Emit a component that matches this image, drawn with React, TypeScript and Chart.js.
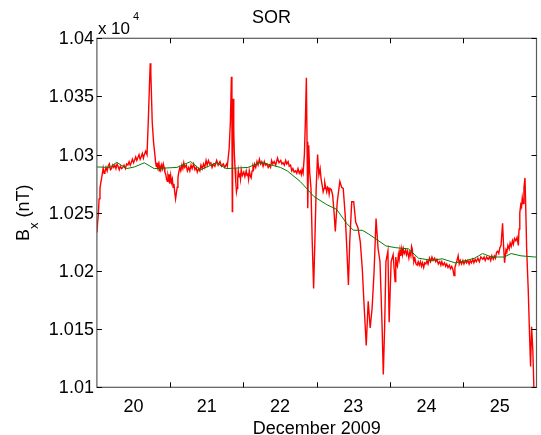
import React, { useEffect, useRef } from 'react';
import { Chart, registerables } from 'chart.js';

Chart.register(...registerables);

// Measured Bx trace: [day of December 2009 (fractional), Bx in nT]
const redSeries: [number, number][] = [
  [19.501, 10233], [19.510, 10242], [19.519, 10248], [19.530, 10262], [19.542, 10271],
  [19.553, 10276], [19.565, 10280], [19.586, 10288.5], [19.598, 10284], [19.609, 10285],
  [19.625, 10289], [19.640, 10286], [19.653, 10290], [19.670, 10292], [19.685, 10287],
  [19.699, 10288], [19.715, 10291], [19.730, 10289], [19.744, 10291], [19.760, 10288],
  [19.775, 10292], [19.788, 10290], [19.805, 10287], [19.820, 10290], [19.838, 10288],
  [19.855, 10289], [19.870, 10291], [19.890, 10288], [19.905, 10292], [19.923, 10291],
  [19.940, 10294], [19.955, 10291], [19.968, 10293], [19.985, 10296], [20.000, 10293],
  [20.013, 10295], [20.030, 10298], [20.045, 10295], [20.057, 10297], [20.075, 10300],
  [20.090, 10296], [20.103, 10298], [20.120, 10301], [20.135, 10297], [20.147, 10300],
  [20.165, 10303], [20.184, 10300], [20.201, 10328], [20.219, 10363], [20.228, 10378.5],
  [20.236, 10370], [20.242, 10357], [20.255, 10328], [20.273, 10311], [20.291, 10300],
  [20.300, 10294], [20.310, 10290], [20.318, 10293], [20.326, 10289], [20.338, 10292],
  [20.350, 10286], [20.361, 10290], [20.372, 10287], [20.384, 10291], [20.395, 10288],
  [20.406, 10292], [20.417, 10289], [20.428, 10285], [20.440, 10283], [20.450, 10279],
  [20.461, 10277], [20.470, 10282], [20.480, 10279], [20.488, 10283], [20.495, 10275],
  [20.507, 10282], [20.518, 10276], [20.530, 10279], [20.540, 10272], [20.551, 10275],
  [20.562, 10268], [20.574, 10262], [20.585, 10267], [20.596, 10272], [20.606, 10280],
  [20.615, 10284], [20.632, 10289], [20.645, 10286], [20.660, 10291], [20.673, 10288],
  [20.686, 10293], [20.700, 10289], [20.720, 10291], [20.735, 10286], [20.753, 10289],
  [20.768, 10286], [20.785, 10291], [20.800, 10288], [20.820, 10292], [20.838, 10287],
  [20.855, 10289], [20.870, 10285], [20.888, 10288], [20.905, 10286], [20.920, 10291],
  [20.938, 10288], [20.955, 10292], [20.972, 10289], [20.990, 10295], [21.005, 10291],
  [21.022, 10295], [21.040, 10292], [21.055, 10293], [21.072, 10289], [21.090, 10292],
  [21.110, 10290], [21.135, 10295], [21.155, 10291], [21.180, 10294], [21.200, 10290],
  [21.225, 10292], [21.245, 10289], [21.269, 10292], [21.280, 10290], [21.290, 10296],
  [21.305, 10305], [21.322, 10328], [21.336, 10367], [21.343, 10328], [21.348, 10251],
  [21.352, 10300], [21.359, 10348], [21.368, 10320], [21.376, 10300], [21.386, 10288],
  [21.395, 10277], [21.405, 10268], [21.413, 10271], [21.422, 10280], [21.430, 10286],
  [21.440, 10281], [21.450, 10284], [21.460, 10279], [21.470, 10287], [21.485, 10282],
  [21.505, 10285], [21.520, 10281], [21.538, 10286], [21.550, 10282], [21.560, 10284],
  [21.570, 10279], [21.580, 10286], [21.592, 10282], [21.605, 10280], [21.618, 10286],
  [21.630, 10290], [21.640, 10288], [21.651, 10292], [21.668, 10289], [21.685, 10294],
  [21.700, 10291], [21.718, 10296], [21.735, 10292], [21.750, 10294], [21.768, 10290],
  [21.785, 10294], [21.800, 10291], [21.820, 10292], [21.838, 10289], [21.853, 10291],
  [21.870, 10289], [21.885, 10295], [21.900, 10292], [21.920, 10294], [21.940, 10291],
  [21.965, 10297], [21.985, 10293], [22.009, 10295], [22.025, 10292], [22.040, 10293],
  [22.058, 10291], [22.076, 10295], [22.092, 10292], [22.110, 10294], [22.125, 10290],
  [22.143, 10291], [22.160, 10286], [22.175, 10288], [22.192, 10285], [22.211, 10286],
  [22.228, 10284], [22.245, 10288], [22.262, 10284], [22.278, 10286], [22.290, 10283],
  [22.300, 10287], [22.314, 10284], [22.332, 10300], [22.345, 10328], [22.359, 10366],
  [22.368, 10311], [22.378, 10254], [22.391, 10308], [22.404, 10285], [22.422, 10271],
  [22.439, 10225], [22.458, 10185], [22.476, 10228], [22.493, 10271], [22.512, 10300],
  [22.530, 10282.5], [22.547, 10288], [22.560, 10279], [22.574, 10274], [22.588, 10268],
  [22.601, 10271], [22.610, 10276], [22.620, 10273], [22.637, 10268], [22.648, 10272],
  [22.660, 10271], [22.670, 10266], [22.682, 10271], [22.700, 10270], [22.718, 10265],
  [22.736, 10251], [22.754, 10234], [22.768, 10248], [22.781, 10259.5], [22.816, 10277],
  [22.840, 10272], [22.862, 10271], [22.889, 10248], [22.907, 10225], [22.933, 10188],
  [22.951, 10225], [22.978, 10259.5], [23.005, 10259.5], [23.032, 10242], [23.064, 10237],
  [23.095, 10225], [23.122, 10202], [23.149, 10168], [23.176, 10136], [23.203, 10174],
  [23.230, 10151], [23.256, 10168], [23.283, 10199], [23.310, 10245], [23.337, 10219.5],
  [23.364, 10208], [23.391, 10156], [23.409, 10111], [23.427, 10151], [23.445, 10208],
  [23.472, 10217], [23.489, 10156], [23.516, 10208], [23.543, 10214], [23.570, 10191],
  [23.579, 10212], [23.590, 10206], [23.602, 10204], [23.615, 10214], [23.625, 10210],
  [23.637, 10218], [23.648, 10213], [23.660, 10219], [23.670, 10214], [23.682, 10219],
  [23.695, 10215], [23.714, 10218], [23.725, 10214], [23.740, 10217], [23.758, 10211],
  [23.770, 10216], [23.785, 10213], [23.795, 10221], [23.804, 10219], [23.815, 10212],
  [23.826, 10208], [23.840, 10211], [23.855, 10206], [23.872, 10205], [23.885, 10208],
  [23.900, 10205], [23.916, 10208], [23.930, 10204], [23.945, 10207], [23.960, 10203],
  [23.975, 10207], [23.990, 10206], [24.006, 10209], [24.020, 10206], [24.040, 10211],
  [24.055, 10208], [24.073, 10212], [24.090, 10209], [24.110, 10211], [24.125, 10208],
  [24.141, 10210], [24.160, 10206], [24.180, 10208], [24.195, 10205], [24.208, 10208],
  [24.225, 10205], [24.245, 10207], [24.260, 10204], [24.275, 10206], [24.292, 10203],
  [24.310, 10205], [24.325, 10202], [24.343, 10204], [24.360, 10201], [24.374, 10196],
  [24.386, 10203], [24.400, 10206], [24.415, 10209], [24.431, 10213], [24.445, 10206],
  [24.460, 10209], [24.477, 10206], [24.495, 10209], [24.510, 10206], [24.530, 10209],
  [24.545, 10207], [24.562, 10209], [24.580, 10206], [24.595, 10209], [24.612, 10207],
  [24.630, 10210], [24.645, 10207], [24.662, 10210], [24.679, 10208], [24.700, 10211],
  [24.720, 10208], [24.740, 10212], [24.768, 10210], [24.785, 10212], [24.800, 10209],
  [24.820, 10212], [24.840, 10210], [24.858, 10212], [24.875, 10209], [24.890, 10213],
  [24.910, 10210], [24.925, 10213], [24.940, 10211], [24.955, 10216], [24.970, 10217],
  [24.985, 10215], [25.000, 10220], [25.016, 10222], [25.037, 10241], [25.051, 10221],
  [25.064, 10207], [25.083, 10218], [25.095, 10216], [25.110, 10222], [25.127, 10219],
  [25.140, 10224], [25.155, 10221], [25.172, 10226], [25.185, 10223], [25.200, 10228],
  [25.218, 10226], [25.235, 10229], [25.252, 10222], [25.262, 10236], [25.272, 10250],
  [25.285, 10257], [25.296, 10255], [25.306, 10263], [25.318, 10258], [25.329, 10272],
  [25.343, 10280], [25.356, 10247], [25.366, 10218], [25.387, 10184], [25.406, 10143.5],
  [25.419, 10118], [25.433, 10152], [25.450, 10132], [25.464, 10100.5], [25.480, 10072],
];

// Smooth quiet-day baseline: [day, nT]
const greenSeries: [number, number][] = [
  [19.501, 10289.4], [19.676, 10289], [19.771, 10293.4], [19.905, 10288], [20.013, 10289.4],
  [20.147, 10293], [20.282, 10288], [20.592, 10289], [20.780, 10294], [20.915, 10287],
  [21.130, 10293], [21.264, 10288], [21.561, 10289], [21.736, 10293.4], [22.005, 10289],
  [22.099, 10286], [22.274, 10277], [22.462, 10264], [22.637, 10257], [22.772, 10253],
  [22.907, 10241], [23.001, 10235], [23.122, 10235], [23.203, 10232], [23.310, 10227.5],
  [23.445, 10221.5], [23.579, 10220], [23.754, 10219], [23.889, 10211], [24.077, 10209],
  [24.212, 10210.5], [24.387, 10207], [24.481, 10208], [24.656, 10211], [24.764, 10215],
  [24.885, 10212], [25.060, 10212], [25.154, 10215], [25.289, 10213], [25.477, 10212],
  [25.500, 10212],
];

const dayLabels = [20, 21, 22, 23, 24, 25];
const xMin = 19.5;
const xMax = 25.5;
const yMin = 10100;
const yMax = 10400;
const yStep = 50;

const FONT = "'Liberation Sans', Arial, Helvetica, sans-serif";

const matlabFrame = {
  id: 'matlabFrame',
  afterDraw(chart: any) {
    const { ctx, chartArea: a, scales } = chart;
    const xs = scales.x;
    const ys = scales.y;
    ctx.save();
    ctx.strokeStyle = '#5a5a5a';
    ctx.lineWidth = 1.2;
    ctx.strokeRect(a.left, a.top, a.right - a.left, a.bottom - a.top);
    ctx.strokeStyle = '#000';
    ctx.lineWidth = 1;
    const L = 5;
    ctx.beginPath();
    for (const t of xs.ticks) {
      if (Number.isInteger(t.value)) continue;
      const p = Math.round(xs.getPixelForValue(t.value)) + 0.5;
      if (p <= a.left + 1 || p >= a.right - 1) continue;
      ctx.moveTo(p, a.bottom);
      ctx.lineTo(p, a.bottom - L);
      ctx.moveTo(p, a.top);
      ctx.lineTo(p, a.top + L);
    }
    for (const t of ys.ticks) {
      const p = Math.round(ys.getPixelForValue(t.value)) + 0.5;
      ctx.moveTo(a.left, p);
      ctx.lineTo(a.left + L, p);
      ctx.moveTo(a.right, p);
      ctx.lineTo(a.right - L, p);
    }
    ctx.stroke();

    ctx.fillStyle = '#000';
    ctx.textBaseline = 'alphabetic';
    ctx.textAlign = 'left';
    ctx.font = `17px ${FONT}`;
    const base = 'x 10';
    ctx.fillText(base, a.left + 1, a.top - 4);
    const w = ctx.measureText(base).width;
    ctx.font = `11px ${FONT}`;
    ctx.fillText('4', a.left + 1 + w + 3, a.top - 18.5);

    const cy = (a.top + a.bottom) / 2;
    ctx.translate(28.5, cy);
    ctx.rotate(-Math.PI / 2);
    ctx.font = `18px ${FONT}`;
    const wB = ctx.measureText('B').width;
    const rest = ' (nT)';
    const wR = ctx.measureText(rest).width;
    ctx.font = `13px ${FONT}`;
    const wx = ctx.measureText('x').width;
    const total = wB + wx + wR;
    let sx = -total / 2;
    ctx.font = `18px ${FONT}`;
    ctx.fillText('B', sx, 0);
    sx += wB;
    ctx.font = `13px ${FONT}`;
    ctx.fillText('x', sx, 9);
    sx += wx;
    ctx.font = `18px ${FONT}`;
    ctx.fillText(rest, sx, 0);
    ctx.restore();
  },
};

export default function App() {
  const ref = useRef<HTMLCanvasElement | null>(null);

  useEffect(() => {
    const canvas = ref.current;
    if (!canvas) return;
    const red = redSeries.map(([t, v]) => ({ x: t, y: v }));
    const green = greenSeries.map(([t, v]) => ({ x: t, y: v }));
    const chart = new Chart(canvas, {
      type: 'line',
      data: {
        datasets: [
          {
            label: 'Quiet-day curve',
            data: green,
            borderColor: 'rgb(0,128,0)',
            borderWidth: 1,
            pointRadius: 0,
            tension: 0,
            fill: false,
          },
          {
            label: 'Bx',
            data: red,
            borderColor: 'rgb(255,0,0)',
            borderWidth: 1.4,
            pointRadius: 0,
            tension: 0,
            fill: false,
          },
        ],
      },
      options: {
        responsive: false,
        animation: false,
        devicePixelRatio: 1,
        layout: { padding: { top: 0, left: 0, right: 2, bottom: 0 }, autoPadding: false },
        plugins: {
          legend: { display: false },
          tooltip: { enabled: false },
          title: {
            display: true,
            text: 'SOR',
            color: '#000',
            font: { family: FONT, size: 18, weight: 'normal', lineHeight: 1.2 },
            padding: { top: 7, bottom: 9.7 },
          },
        },
        scales: {
          x: {
            type: 'linear',
            min: xMin,
            max: xMax,
            grid: { display: false, drawTicks: false },
            border: { display: false },
            ticks: {
              stepSize: 0.5,
              autoSkip: false,
              maxRotation: 0,
              padding: 8.5,
              color: '#000',
              font: { family: FONT, size: 18 },
              callback: (v: any) => (Number.isInteger(v) && dayLabels.includes(v) ? String(v) : ''),
            },
            title: {
              display: true,
              text: 'December 2009',
              color: '#000',
              font: { family: FONT, size: 18, lineHeight: '12px' },
              padding: { top: 0, bottom: 0 },
            },
            afterFit: (s: any) => {
              s.height = 47.7;
            },
          },
          y: {
            type: 'linear',
            min: yMin,
            max: yMax,
            grid: { display: false, drawTicks: false },
            border: { display: false },
            ticks: {
              stepSize: yStep,
              padding: 3,
              color: '#000',
              labelOffset: 1,
              font: { family: FONT, size: 18 },
              callback: (v: any) => String(parseFloat((v / 10000).toFixed(4))),
            },
            afterFit: (s: any) => {
              s.width = 96.9;
            },
          },
        },
      },
      plugins: [matlabFrame],
    });
    return () => chart.destroy();
  }, []);

  return (
    <div
      style={{
        position: 'fixed',
        left: 0,
        top: 0,
        width: 541,
        height: 435,
        overflow: 'hidden',
        background: '#fff',
      }}
    >
      <canvas ref={ref} width={545} height={435} style={{ display: 'block' }} />
    </div>
  );
}
